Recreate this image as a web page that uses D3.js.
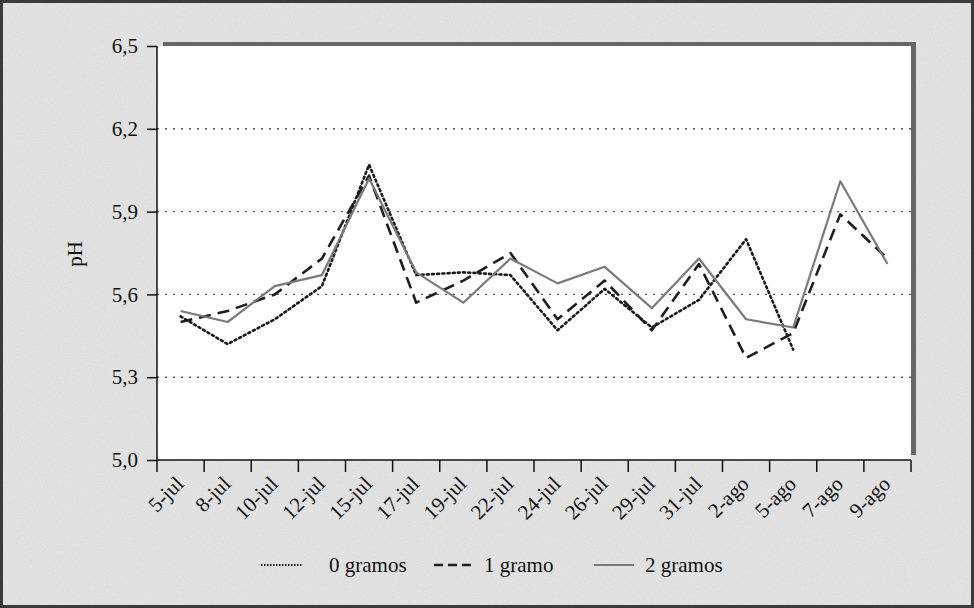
<!DOCTYPE html>
<html>
<head>
<meta charset="utf-8">
<script src="https://cdn.jsdelivr.net/npm/d3@7"></script>
<style>
  html, body { margin: 0; padding: 0; background: #e8e8e8; }
  svg { display: block; }
  svg text { font-family: "Liberation Serif", "Times New Roman", Times, "DejaVu Serif", serif !important; fill: #111; }
</style>
</head>
<body>
<svg id="chart" width="974" height="608"></svg>
<script>
const categories = ["5-jul","8-jul","10-jul","12-jul","15-jul","17-jul","19-jul","22-jul","24-jul","26-jul","29-jul","31-jul","2-ago","5-ago","7-ago","9-ago"];
const gramos0 = [5.52,5.42,5.51,5.63,6.07,5.67,5.68,5.67,5.47,5.62,5.48,5.58,5.80,5.40,null,null];
const gramos1 = [5.50,5.54,5.60,5.73,6.03,5.57,5.65,5.75,5.51,5.65,5.47,5.71,5.37,5.46,5.89,5.73];
const gramos2 = [5.54,5.50,5.63,5.67,6.02,5.68,5.57,5.73,5.64,5.70,5.55,5.73,5.51,5.48,6.01,5.71];
const yTicks = [5.0,5.3,5.6,5.9,6.2,6.5];
const seriesNames = ["0 gramos","1 gramo","2 gramos"];

const FONT = '"Liberation Serif", "Times New Roman", Times, serif';
const svg = d3.select("#chart");
const W = 974, H = 608;
const plot = {left: 157, right: 911, top: 46, bottom: 460};

// background with grain
const defs = svg.append("defs");
const f = defs.append("filter").attr("id","grain").attr("x",0).attr("y",0).attr("width","100%").attr("height","100%");
f.append("feTurbulence").attr("type","fractalNoise").attr("baseFrequency",0.9).attr("numOctaves",2).attr("seed",3).attr("result","n");
f.append("feColorMatrix").attr("type","matrix")
  .attr("values","0 0 0 0 0.45  0 0 0 0 0.45  0 0 0 0 0.45  0 0 0 0.22 0");
svg.append("rect").attr("width",W).attr("height",H).attr("fill","#e6e6e6");
svg.append("rect").attr("width",W).attr("height",H).attr("filter","url(#grain)");
svg.append("rect").attr("x",1.5).attr("y",1.5).attr("width",W-3).attr("height",H-3)
  .attr("fill","none").attr("stroke","#3a3a3a").attr("stroke-width",3);

// shadow frame and plot area
svg.append("rect").attr("x",plot.left+6).attr("y",plot.top-4)
  .attr("width",plot.right-plot.left-1).attr("height",plot.bottom-plot.top-1)
  .attr("fill","#666");
svg.append("rect").attr("x",plot.left).attr("y",plot.top)
  .attr("width",plot.right-plot.left).attr("height",plot.bottom-plot.top)
  .attr("fill","#ffffff");

const x = d3.scaleBand().domain(categories).range([plot.left, plot.right]).padding(0);
const y = d3.scaleLinear().domain([5.0, 6.5]).range([plot.bottom, plot.top]);
const cx = c => x(c) + x.bandwidth()/2;

// gridlines
svg.append("g").selectAll("line").data(yTicks.filter(v => v > 5.0 && v < 6.5)).join("line")
  .attr("x1", plot.left).attr("x2", plot.right)
  .attr("y1", d => y(d)).attr("y2", d => y(d))
  .attr("stroke","#555").attr("stroke-width",1.4).attr("stroke-dasharray","2,6");

// y axis
const yAxis = d3.axisLeft(y).tickValues(yTicks).tickSize(10).tickPadding(9)
  .tickFormat(d => d3.format(".1f")(d).replace(".", ","));
const ya = svg.append("g").attr("transform",`translate(${plot.left},0)`).call(yAxis)
  .attr("font-family", FONT).attr("font-size", 21);
ya.select(".domain").remove();
ya.selectAll(".tick line").attr("stroke","#111").attr("stroke-width",1.5);
ya.selectAll(".tick text").attr("fill","#111");
svg.append("line").attr("x1",plot.left).attr("x2",plot.left).attr("y1",plot.top).attr("y2",plot.bottom)
  .attr("stroke","#111").attr("stroke-width",1.5);

// y title
svg.append("text").attr("transform","translate(82,254) rotate(-90)")
  .attr("text-anchor","middle").attr("font-family", FONT).attr("font-size",21).text("pH");

// x axis
svg.append("line").attr("x1",plot.left).attr("x2",plot.right).attr("y1",plot.bottom).attr("y2",plot.bottom)
  .attr("stroke","#111").attr("stroke-width",1.5);
const bounds = categories.map(c => x(c)).concat([plot.right]);
svg.append("g").selectAll("line").data(bounds).join("line")
  .attr("x1", d => d).attr("x2", d => d).attr("y1", plot.bottom).attr("y2", plot.bottom + 12)
  .attr("stroke","#111").attr("stroke-width",1.5);
svg.append("g").selectAll("text").data(categories).join("text")
  .attr("transform", d => `translate(${cx(d)-1},${plot.bottom+20}) rotate(-45)`)
  .attr("text-anchor","end").attr("dy","0.35em").attr("font-family", FONT).attr("font-size",21).text(d => d);

// lines
const line = d3.line().defined(d => d.v != null).x(d => cx(d.c)).y(d => y(d.v));
const mk = arr => categories.map((c,i) => ({c, v: arr[i]}));
const styles = [
  {data: gramos0, stroke: "#1a1a1a", width: 2.6, dash: "2,3.2", cap: "round"},
  {data: gramos1, stroke: "#1e1e1e", width: 2.6, dash: "12,7", cap: "butt"},
  {data: gramos2, stroke: "#7a7a7a", width: 2.2, dash: null, cap: "butt"}
];
styles.forEach(s => {
  svg.append("path").datum(mk(s.data)).attr("d", line)
    .attr("fill","none").attr("stroke", s.stroke).attr("stroke-width", s.width)
    .attr("stroke-dasharray", s.dash).attr("stroke-linecap", s.cap).attr("stroke-linejoin","round");
});

// legend
const legendItems = [
  {x1: 261, x2: 302, tx: 329},
  {x1: 434, x2: 476, tx: 484},
  {x1: 594, x2: 634, tx: 645}
];
const ly = 565;
const lg = svg.append("g");
legendItems.forEach((it, i) => {
  const s = styles[i];
  lg.append("line").attr("x1", it.x1).attr("x2", it.x2).attr("y1", ly).attr("y2", ly)
    .attr("stroke", s.stroke).attr("stroke-width", i === 0 ? 2.2 : s.width)
    .attr("stroke-dasharray", i === 0 ? "1.5,1.5" : (i === 1 ? "9,5" : null))
    .attr("stroke-linecap", "butt");
  lg.append("text").attr("x", it.tx).attr("y", ly).attr("dy","0.35em")
    .attr("font-family", FONT).attr("font-size",21).text(seriesNames[i]);
});
</script>
</body>
</html>
